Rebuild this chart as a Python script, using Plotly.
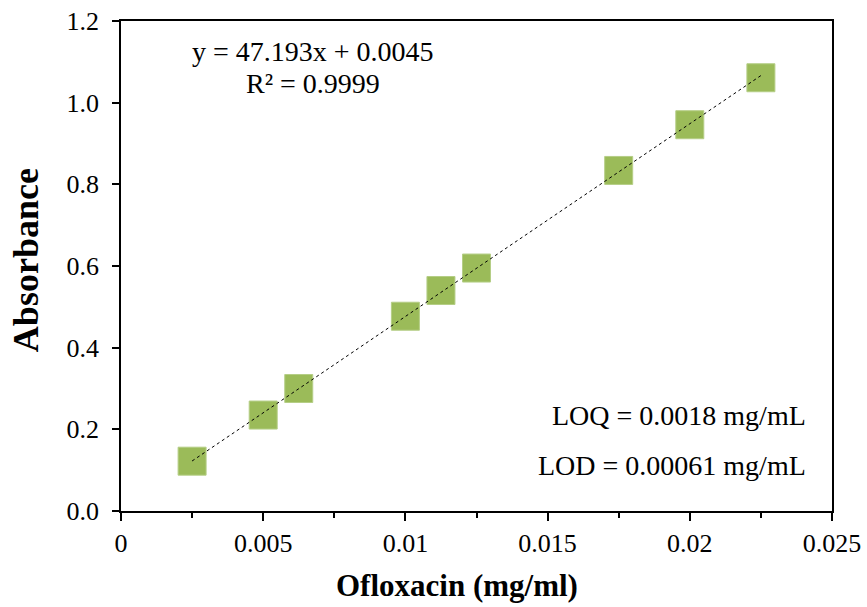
import numpy as np
import plotly.graph_objects as go

# Data
conc = [0.0025, 0.005, 0.00625, 0.01, 0.01125, 0.0125, 0.0175, 0.02, 0.0225]
absorbance = [0.122, 0.235, 0.300, 0.477, 0.540, 0.595, 0.834, 0.946, 1.061]
slope = 47.193
intercept = 0.0045
eq_text = "y = 47.193x + 0.0045"
r2_text = "R² = 0.9999"
loq_text = "LOQ = 0.0018 mg/mL"
lod_text = "LOD = 0.00061 mg/mL"
x_title = "Ofloxacin (mg/ml)"
y_title = "Absorbance"
x_ticks = [0, 0.005, 0.01, 0.015, 0.02, 0.025]
x_ticklabels = ["0", "0.005", "0.01", "0.015", "0.02", "0.025"]
y_ticks = [0.0, 0.2, 0.4, 0.6, 0.8, 1.0, 1.2]
y_ticklabels = ["0.0", "0.2", "0.4", "0.6", "0.8", "1.0", "1.2"]

font = "Liberation Serif, Times New Roman, serif"

fit_x = [min(conc), max(conc)]
fit_y = [slope * v + intercept for v in fit_x]

fig = go.Figure()
fig.add_trace(go.Scatter(
    x=conc, y=absorbance, mode="markers",
    marker=dict(symbol="square", size=28, color="#9BBB59",
                line=dict(width=1, color="#B5CE86")),
    showlegend=False, hoverinfo="x+y"))
fig.add_trace(go.Scatter(
    x=fit_x, y=fit_y, mode="lines",
    line=dict(color="black", width=1, dash="dot"),
    showlegend=False, hoverinfo="skip"))

fig.update_layout(
    width=867, height=607,
    margin=dict(l=121, r=35, t=21, b=96),
    paper_bgcolor="white", plot_bgcolor="white",
    font=dict(family=font, size=26, color="black"),
    xaxis=dict(range=[0, 0.025], tickvals=x_ticks, ticktext=x_ticklabels,
               automargin=False,
               showgrid=False, zeroline=False, showline=True, mirror=True,
               linecolor="black", linewidth=1.5, ticks="outside", ticklen=8,
               tickwidth=1.5, tickcolor="black",
               tickfont=dict(family=font, size=26),
               minor=dict(ticks="outside", dtick=0.0025, tick0=0, ticklen=5,
                          tickwidth=1.5, tickcolor="black", showgrid=False)),
    yaxis=dict(range=[0, 1.2], tickvals=y_ticks, ticktext=y_ticklabels,
               automargin=False, ticklabelstandoff=8,
               showgrid=False, zeroline=False, showline=True, mirror=True,
               linecolor="black", linewidth=1.5, ticks="outside", ticklen=7,
               tickwidth=1.5, tickcolor="black",
               tickfont=dict(family=font, size=26)),
    annotations=[
        dict(x=0.00675, y=1.125, xref="x", yref="y", text=eq_text,
             showarrow=False, font=dict(family=font, size=28), xanchor="center"),
        dict(x=0.00675, y=1.047, xref="x", yref="y", text=r2_text,
             showarrow=False, font=dict(family=font, size=28), xanchor="center"),
        dict(x=0.02416, y=0.234, xref="x", yref="y", text=loq_text,
             showarrow=False, font=dict(family=font, size=28), xanchor="right"),
        dict(x=0.02416, y=0.112, xref="x", yref="y", text=lod_text,
             showarrow=False, font=dict(family=font, size=28), xanchor="right"),
        dict(x=0.4719, y=-0.153, xref="paper", yref="paper",
             text="<b>" + x_title + "</b>", showarrow=False,
             font=dict(family=font, size=31), xanchor="center", yanchor="middle"),
        dict(x=-0.1336, y=0.512, xref="paper", yref="paper",
             text="<b>" + y_title + "</b>", showarrow=False, textangle=-90,
             font=dict(family=font, size=36), xanchor="center", yanchor="middle"),
    ],
)

fig.write_html("out.html")
